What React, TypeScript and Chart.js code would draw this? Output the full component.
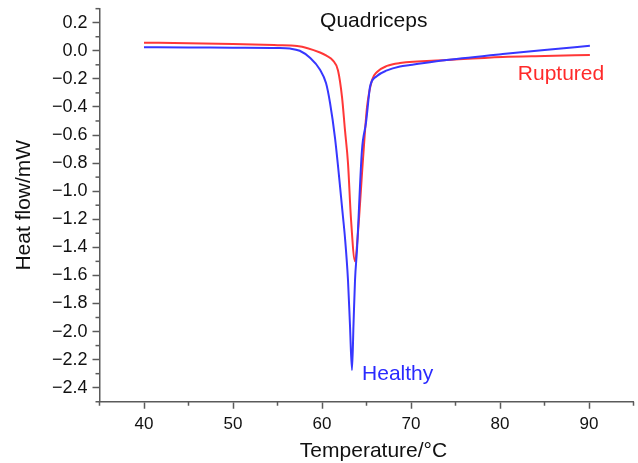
import React, { useEffect, useRef } from "react";
import { Chart, registerables } from "chart.js";

Chart.register(...registerables);

// Healthy (blue) curve
const healthyX = [40, 45, 50, 55, 56.4, 57.5, 58.65, 59.78, 60.45, 60.9, 61.46, 62.36, 62.58, 62.92, 63.14, 63.37, 63.54, 63.71, 63.93, 64.49, 64.94, 65.28, 65.39, 66.18, 67.3, 68.76, 69.9, 74.0, 80.3, 85, 90.1];
const healthyY = [0.025, 0.024, 0.022, 0.02, 0.016, 0.0, -0.05, -0.135, -0.23, -0.37, -0.62, -1.184, -1.33, -1.633, -1.95, -2.274, -1.95, -1.633, -1.419, -0.707, -0.514, -0.315, -0.258, -0.18, -0.14, -0.112, -0.102, -0.066, -0.023, 0.005, 0.036];

// Ruptured (red) curve
const rupturedX = [40, 45, 50, 55, 57.2, 59.78, 60.5, 61.24, 61.8, 62.25, 62.58, 62.92, 63.26, 63.71, 64.04, 64.6, 65.06, 65.62, 66.18, 67.3, 68.76, 74.0, 80.3, 85, 90.1];
const rupturedY = [0.058, 0.054, 0.048, 0.04, 0.034, -0.012, -0.035, -0.07, -0.14, -0.33, -0.564, -0.8, -1.2, -1.499, -1.297, -0.778, -0.4, -0.208, -0.151, -0.108, -0.087, -0.066, -0.044, -0.037, -0.03];

// Axis ranges
const xMin = 35, xMax = 95, xStep = 5;
const yMin = -2.5, yMax = 0.3, yStep = 0.1;

// Text labels inside plot
const labelTexts = ["Quadriceps", "Ruptured", "Healthy"];
const labelX = [59.78, 82.0, 64.5];
const labelY = [0.169, -0.208, -2.343];
const labelColors = ["#111111", "#ff2a2a", "#2a2aff"];

const xTitle = "Temperature/°C";
const yTitle = "Heat flow/mW";

const FONT = "'Liberation Sans', Arial, Helvetica, sans-serif";
const AXIS_COLOR = "#5a5a5a";

const isMinorY = (v: number) => Math.abs(Math.round(v * 10)) % 2 !== 0;
const isMinorX = (v: number) => Math.abs(Math.round(v)) % 10 !== 0;

const minorTicks = {
  id: "minorTicks",
  afterDraw(chart: any) {
    const ctx = chart.ctx;
    const { left, bottom } = chart.chartArea;
    ctx.save();
    ctx.strokeStyle = AXIS_COLOR;
    ctx.lineWidth = 1.5;
    const ys = chart.scales.y;
    ys.ticks.forEach((t: any) => {
      if (isMinorY(t.value)) {
        const p = ys.getPixelForValue(t.value);
        ctx.beginPath();
        ctx.moveTo(left - 4, p);
        ctx.lineTo(left, p);
        ctx.stroke();
      }
    });
    const xs = chart.scales.x;
    xs.ticks.forEach((t: any) => {
      if (isMinorX(t.value)) {
        const p = xs.getPixelForValue(t.value);
        ctx.beginPath();
        ctx.moveTo(p, bottom);
        ctx.lineTo(p, bottom + 4);
        ctx.stroke();
      }
    });
    // text labels
    ctx.font = `21px ${FONT}`;
    ctx.textAlign = "left";
    ctx.textBaseline = "alphabetic";
    labelTexts.forEach((txt, i) => {
      ctx.fillStyle = labelColors[i];
      ctx.fillText(txt, xs.getPixelForValue(labelX[i]), ys.getPixelForValue(labelY[i]));
    });
    // x axis title (slightly right of centre, as in the original)
    ctx.fillStyle = "#111";
    ctx.textAlign = "center";
    ctx.fillText(xTitle, (xs.left + xs.right) / 2 + 7, 457);
    ctx.restore();
  },
};

export default function App() {
  const ref = useRef<HTMLCanvasElement | null>(null);
  useEffect(() => {
    if (!ref.current) return;
    const chart = new Chart(ref.current, {
      type: "line",
      data: {
        datasets: [
          {
            label: "Healthy",
            data: healthyX.map((x, i) => ({ x, y: healthyY[i] })),
            borderColor: "rgb(55,55,255)",
            borderWidth: 2,
            pointRadius: 0,
            cubicInterpolationMode: "monotone",
            fill: false,
          },
          {
            label: "Ruptured",
            data: rupturedX.map((x, i) => ({ x, y: rupturedY[i] })),
            borderColor: "rgb(255,55,55)",
            borderWidth: 2,
            pointRadius: 0,
            cubicInterpolationMode: "monotone",
            fill: false,
          },
        ],
      },
      options: {
        animation: false,
        responsive: true,
        maintainAspectRatio: false,
        layout: { padding: { top: 8.66, right: 4.5, left: 0, bottom: 0 } },
        plugins: { legend: { display: false }, tooltip: { enabled: false } },
        scales: {
          x: {
            type: "linear",
            min: xMin,
            max: xMax,
            afterFit: (s: any) => { s.height = 61.26; s.paddingLeft = 0; s.paddingRight = 0; },
            border: { display: true, color: AXIS_COLOR, width: 1.5 },
            grid: {
              drawOnChartArea: false,
              drawTicks: true,
              tickLength: 7,
              tickWidth: 1.5,
              tickColor: (c: any) => (isMinorX(c.tick.value) ? "rgba(0,0,0,0)" : AXIS_COLOR),
            },
            ticks: {
              stepSize: xStep,
              autoSkip: false,
              maxRotation: 0,
              padding: 5,
              color: "#111",
              font: { family: FONT, size: 17 },
              callback: (v: any) => (isMinorX(Number(v)) ? "" : String(Math.round(Number(v)))),
            },
            title: { display: false, text: xTitle },
          },
          y: {
            type: "linear",
            min: yMin,
            max: yMax,
            afterFit: (s: any) => { s.width = 99.5; s.paddingTop = 0; s.paddingBottom = 0; },
            border: { display: true, color: AXIS_COLOR, width: 1.5 },
            grid: {
              drawOnChartArea: false,
              drawTicks: true,
              tickLength: 7,
              tickWidth: 1.5,
              tickColor: (c: any) => (isMinorY(c.tick.value) ? "rgba(0,0,0,0)" : AXIS_COLOR),
            },
            ticks: {
              stepSize: yStep,
              maxTicksLimit: 100,
              autoSkip: false,
              padding: 5,
              color: "#111",
              font: { family: FONT, size: 18 },
              callback: (v: any) => {
                const n = Number(v);
                if (isMinorY(n)) return "";
                const a = Math.abs(n).toFixed(1);
                return (n < -1e-9 ? "\u2212" : "") + a;
              },
            },
            title: {
              display: true,
              text: yTitle,
              color: "#111",
              font: { family: FONT, size: 21 },
              padding: { top: 12, bottom: 0 },
            },
          },
        },
      },
      plugins: [minorTicks],
    });
    return () => chart.destroy();
  }, []);
  return (
    <div style={{ position: "absolute", left: 0, top: 0, width: 638, height: 463, background: "#fff" }}>
      <canvas ref={ref} />
    </div>
  );
}
